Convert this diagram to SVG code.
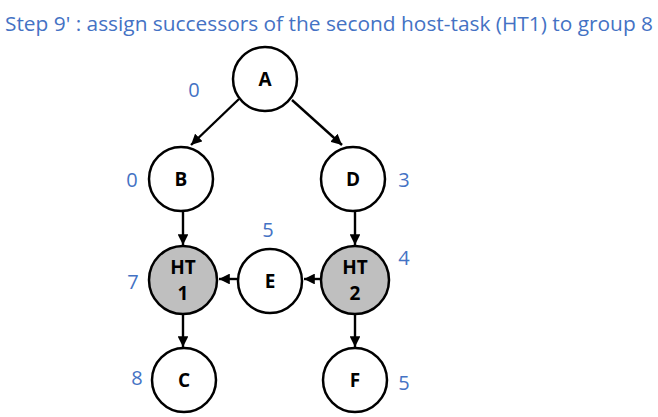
<svg xmlns="http://www.w3.org/2000/svg" width="658" height="417" viewBox="0 0 658 417">
<defs>
<marker id="ah" viewBox="0 0 10 10" refX="10" refY="5" markerWidth="4.5" markerHeight="4.5" orient="auto" markerUnits="strokeWidth">
<path d="M0,0 L10,5 L0,10 z" fill="#000"/>
</marker>
</defs>
<style>
.n{fill:#fff;stroke:#000;stroke-width:2.5}
.h{fill:#bfbfbf;stroke:#000;stroke-width:2.5}
.t{font-family:"Open Sans","Liberation Sans",Arial,sans-serif;font-weight:bold;font-size:19px;fill:#000;text-anchor:middle}
.l{font-family:"Open Sans","Liberation Sans",sans-serif;font-size:20px;fill:#4472c4;text-anchor:middle}
.c{stroke:#000;stroke-width:2.4;fill:none;marker-end:url(#ah)}
</style>
<rect width="658" height="417" fill="#fff"/>
<text x="5" y="31" font-family="Open Sans,Liberation Sans,sans-serif" font-size="20" fill="#4472c4" textLength="648" lengthAdjust="spacingAndGlyphs">Step 9' : assign successors of the second host-task (HT1) to group 8</text>
<g id="connectors">
<line class="c" x1="239" y1="99" x2="191" y2="145"/>
<line class="c" x1="292" y1="100" x2="342" y2="145"/>
<line class="c" x1="183" y1="212" x2="183" y2="245"/>
<line class="c" x1="355" y1="210" x2="355" y2="245"/>
<line class="c" x1="237" y1="279" x2="219" y2="279"/>
<line class="c" x1="321" y1="279" x2="304" y2="279"/>
<line class="c" x1="183" y1="315" x2="183" y2="347"/>
<line class="c" x1="355" y1="315" x2="355" y2="347"/>
</g>
<g id="A"><circle class="n" cx="265" cy="79" r="32"/><text class="t" x="265" y="86">A</text></g>
<g id="B"><circle class="n" cx="181" cy="179" r="32"/><text class="t" x="181" y="186">B</text></g>
<g id="D"><circle class="n" cx="353" cy="179" r="32"/><text class="t" x="353" y="186">D</text></g>
<g id="HT1"><circle class="h" cx="183" cy="280" r="34"/><text class="t" x="183" y="274">HT</text><text class="t" x="183" y="300">1</text></g>
<g id="E"><circle class="n" cx="270" cy="281" r="32"/><text class="t" x="270" y="288">E</text></g>
<g id="HT2"><circle class="h" cx="355" cy="280" r="34"/><text class="t" x="355" y="274">HT</text><text class="t" x="355" y="300">2</text></g>
<g id="C"><circle class="n" cx="184" cy="380" r="32"/><text class="t" x="184" y="387">C</text></g>
<g id="F"><circle class="n" cx="355" cy="380" r="32"/><text class="t" x="355" y="387">F</text></g>
<g id="labels">
<text class="l" x="194" y="97">0</text>
<text class="l" x="132" y="187">0</text>
<text class="l" x="404" y="187">3</text>
<text class="l" x="268" y="237">5</text>
<text class="l" x="404" y="265">4</text>
<text class="l" x="133" y="289">7</text>
<text class="l" x="137" y="385">8</text>
<text class="l" x="404" y="390">5</text>
</g>
</svg>
